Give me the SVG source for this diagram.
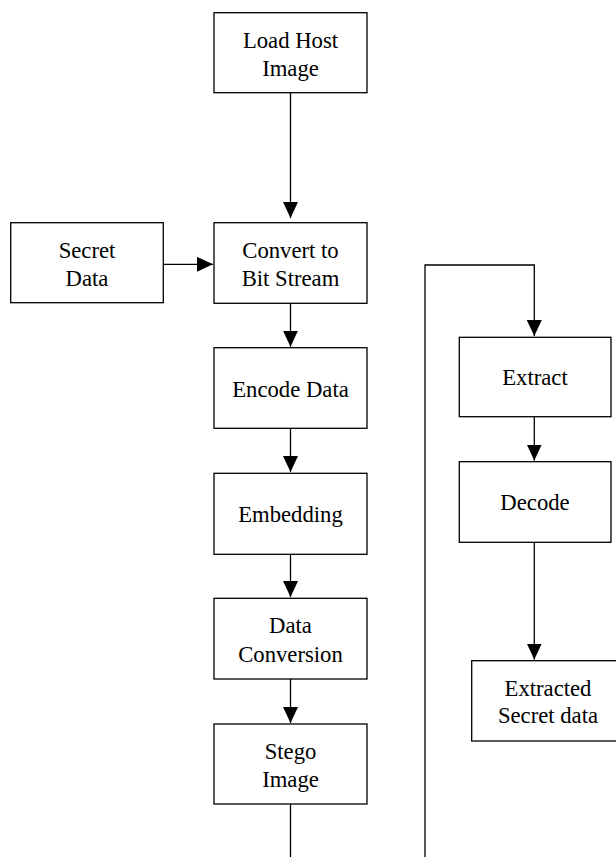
<svg xmlns="http://www.w3.org/2000/svg" width="616" height="857" viewBox="0 0 616 857">
<style>
.box{fill:#fff;stroke:#000;stroke-width:1.3}
.t{font-family:"Liberation Serif","Times New Roman",serif;font-size:22.7px;fill:#000;text-anchor:middle}
.c{fill:none;stroke:#000;stroke-width:1.3}
</style>
<defs>
<marker id="ah" viewBox="0 0 16 15" refX="16" refY="7.5" markerWidth="16" markerHeight="15" markerUnits="userSpaceOnUse" orient="auto">
<path d="M0,0 L16,7.5 L0,15 Z" fill="#000"/>
</marker>
</defs>
<rect width="616" height="857" fill="#fff"/>
<g id="connectors">
<path class="c" d="M290.5,93 V218" marker-end="url(#ah)"/>
<path class="c" d="M163.3,264.3 H213" marker-end="url(#ah)"/>
<path class="c" d="M290.5,303.3 V346.7" marker-end="url(#ah)"/>
<path class="c" d="M290.5,428.3 V472" marker-end="url(#ah)"/>
<path class="c" d="M290.5,554.3 V597" marker-end="url(#ah)"/>
<path class="c" d="M290.5,679 V723" marker-end="url(#ah)"/>
<path class="c" d="M290.5,804 V857"/>
<path class="c" d="M425,857 V265 H534.3 V336" marker-end="url(#ah)"/>
<path class="c" d="M534.3,417 V460.5" marker-end="url(#ah)"/>
<path class="c" d="M534.3,542.3 V659.5" marker-end="url(#ah)"/>
</g>
<g id="load-host">
<rect class="box" x="214" y="12.7" width="153" height="80"/>
<text class="t" x="290.5" y="48.3">Load Host</text>
<text class="t" x="290.5" y="76">Image</text>
</g>
<g id="secret-data">
<rect class="box" x="10.7" y="222.7" width="152.6" height="80"/>
<text class="t" x="87" y="258.3">Secret</text>
<text class="t" x="87" y="286">Data</text>
</g>
<g id="convert">
<rect class="box" x="214" y="222.7" width="153" height="80.6"/>
<text class="t" x="290.5" y="257.8">Convert to</text>
<text class="t" x="290.5" y="285.5">Bit Stream</text>
</g>
<g id="encode">
<rect class="box" x="214" y="347.7" width="153" height="80.6"/>
<text class="t" x="290.5" y="396.5">Encode Data</text>
</g>
<g id="embedding">
<rect class="box" x="214" y="473.3" width="153" height="81"/>
<text class="t" x="290.5" y="522">Embedding</text>
</g>
<g id="data-conversion">
<rect class="box" x="214" y="598.3" width="153" height="80.7"/>
<text class="t" x="290.5" y="633.3">Data</text>
<text class="t" x="290.5" y="661.5">Conversion</text>
</g>
<g id="stego">
<rect class="box" x="214" y="724" width="153" height="80"/>
<text class="t" x="290.5" y="759.3">Stego</text>
<text class="t" x="290.5" y="787">Image</text>
</g>
<g id="extract">
<rect class="box" x="459.3" y="337.3" width="151.7" height="79.4"/>
<text class="t" x="535" y="385">Extract</text>
</g>
<g id="decode">
<rect class="box" x="459.3" y="461.7" width="151.7" height="80.6"/>
<text class="t" x="535" y="510">Decode</text>
</g>
<g id="extracted">
<rect class="box" x="471.7" y="660.7" width="153" height="80.3"/>
<text class="t" x="548" y="695.7">Extracted</text>
<text class="t" x="548" y="723.3">Secret data</text>
</g>
</svg>
